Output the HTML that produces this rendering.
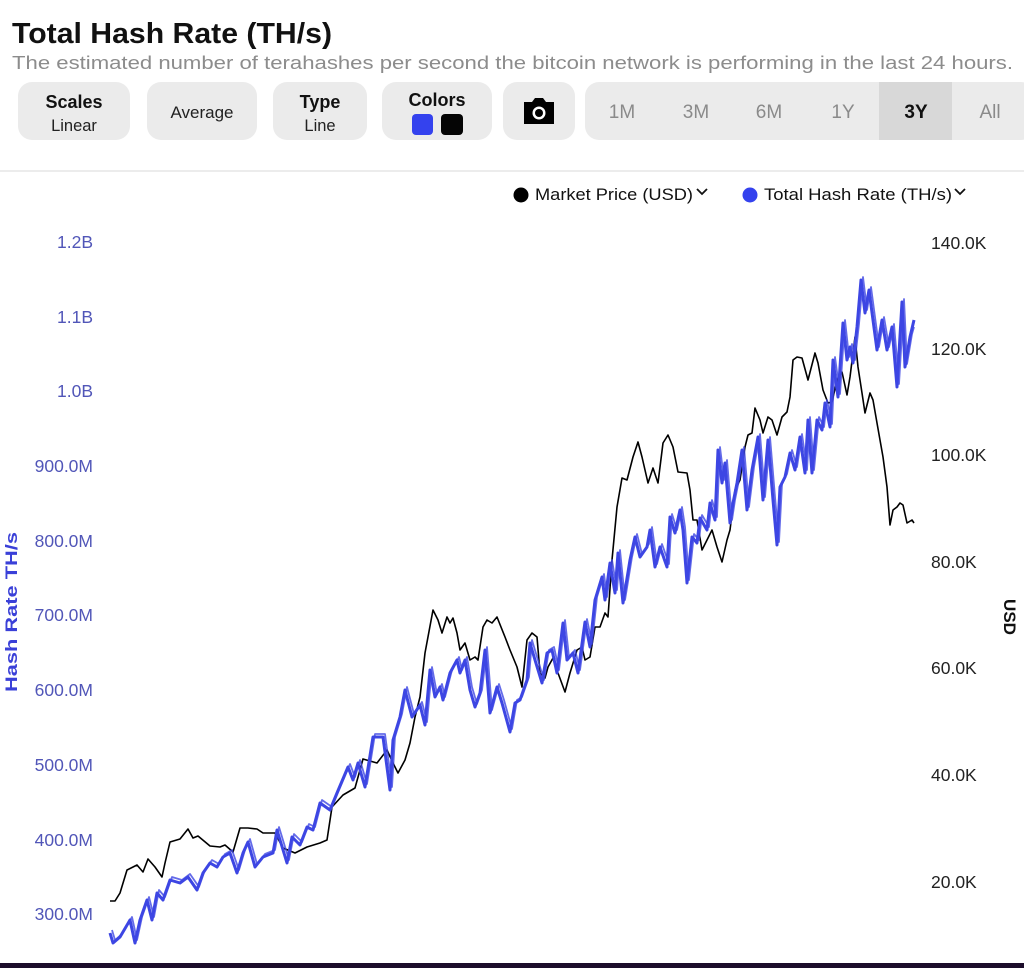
<!DOCTYPE html>
<html><head><meta charset="utf-8"><style>
html,body{margin:0;padding:0;background:#fff;}
svg{display:block;font-family:"Liberation Sans",sans-serif;}
</style></head><body>
<svg width="1024" height="968" viewBox="0 0 1024 968" xmlns="http://www.w3.org/2000/svg">
<rect width="1024" height="968" fill="#fff"/>
<text x="12" y="43" font-size="29" font-weight="bold" fill="#111" textLength="320" lengthAdjust="spacingAndGlyphs">Total Hash Rate (TH/s)</text>
<text x="12" y="69" font-size="18.5" fill="#8c8c8c" textLength="1001" lengthAdjust="spacingAndGlyphs">The estimated number of terahashes per second the bitcoin network is performing in the last 24 hours.</text>
<!-- buttons -->
<rect x="18" y="82" width="112" height="58" rx="14" fill="#ebebeb"/>
<text x="74" y="108" font-size="18" font-weight="bold" text-anchor="middle" fill="#111">Scales</text>
<text x="74" y="131" font-size="16.5" text-anchor="middle" fill="#222">Linear</text>
<rect x="147" y="82" width="110" height="58" rx="14" fill="#ebebeb"/>
<text x="202" y="118" font-size="17" text-anchor="middle" fill="#222">Average</text>
<rect x="273" y="82" width="94" height="58" rx="14" fill="#ebebeb"/>
<text x="320" y="108" font-size="18" font-weight="bold" text-anchor="middle" fill="#111">Type</text>
<text x="320" y="131" font-size="16.5" text-anchor="middle" fill="#222">Line</text>
<rect x="382" y="82" width="110" height="58" rx="14" fill="#ebebeb"/>
<text x="437" y="106" font-size="18" font-weight="bold" text-anchor="middle" fill="#111">Colors</text>
<rect x="412" y="114" width="21" height="21" rx="4" fill="#3442ee"/>
<rect x="441" y="114" width="22" height="21" rx="4" fill="#050505"/>
<rect x="503" y="82" width="72" height="58" rx="14" fill="#ebebeb"/>
<path d="M524 102 h8 l3 -4 h8 l3 4 h8 v22 h-30 z" fill="#000"/>
<circle cx="539" cy="113" r="6.5" fill="#fff"/>
<circle cx="539" cy="113" r="4" fill="#000"/>
<rect x="585" y="82" width="450" height="58" rx="14" fill="#ebebeb"/>
<rect x="879" y="82" width="73" height="58" fill="#d8d8d8"/>
<g font-size="19" fill="#8a8a8a" text-anchor="middle">
<text x="622" y="118">1M</text>
<text x="696" y="118">3M</text>
<text x="769" y="118">6M</text>
<text x="843" y="118">1Y</text>
<text x="916" y="118" font-weight="bold" fill="#111">3Y</text>
<text x="990" y="118">All</text>
</g>
<line x1="0" y1="171" x2="1024" y2="171" stroke="#e6e6e6" stroke-width="1.5"/>
<!-- legend -->
<circle cx="521" cy="195" r="7.5" fill="#000"/>
<text x="535" y="200" font-size="17" fill="#111" textLength="158" lengthAdjust="spacingAndGlyphs">Market Price (USD)</text>
<polyline points="697,189 702,194 707,189" fill="none" stroke="#111" stroke-width="1.8"/>
<circle cx="750" cy="195" r="7.5" fill="#3442ee"/>
<text x="764" y="200" font-size="17" fill="#111" textLength="188" lengthAdjust="spacingAndGlyphs">Total Hash Rate (TH/s)</text>
<polyline points="955,189 960,194 965,189" fill="none" stroke="#111" stroke-width="1.8"/>
<!-- left ticks -->
<g font-size="17.5" fill="#5156b8" text-anchor="end">
<text x="93" y="248">1.2B</text>
<text x="93" y="323">1.1B</text>
<text x="93" y="397">1.0B</text>
<text x="93" y="472">900.0M</text>
<text x="93" y="547">800.0M</text>
<text x="93" y="621">700.0M</text>
<text x="93" y="696">600.0M</text>
<text x="93" y="771">500.0M</text>
<text x="93" y="846">400.0M</text>
<text x="93" y="920">300.0M</text>
</g>
<g font-size="17.5" fill="#222">
<text x="931" y="249">140.0K</text>
<text x="931" y="355">120.0K</text>
<text x="931" y="461">100.0K</text>
<text x="931" y="568">80.0K</text>
<text x="931" y="674">60.0K</text>
<text x="931" y="781">40.0K</text>
<text x="931" y="888">20.0K</text>
</g>
<text transform="translate(17,612) rotate(-90)" font-size="17" font-weight="bold" fill="#3a40d8" text-anchor="middle" textLength="160" lengthAdjust="spacingAndGlyphs">Hash Rate TH/s</text>
<text transform="translate(1004,617) rotate(90)" font-size="17" font-weight="bold" fill="#111" text-anchor="middle">USD</text>
<!-- series -->
<polyline fill="none" stroke="#000" stroke-width="1.6" stroke-linejoin="round" points="110,901 115,901 120,893 127,870 137,865 143,872 148,859 155,867 162,877 165,863 170,842 180,839 188,829 193,838 198,836 210,846 220,847 225,845 233,852 240,828 248,828 257,829 263,833 275,833 283,848 295,853 307,847 320,843 327,840 332,807 343,795 355,788 363,759 377,763 387,750 393,763 398,773 405,760 410,743 415,717 420,697 425,653 433,610 438,620 442,633 447,617 450,623 453,618 457,633 460,650 465,643 470,660 475,657 478,660 483,627 487,620 492,623 497,617 505,637 510,650 517,667 522,687 527,640 532,633 537,637 540,673 545,678 548,667 553,658 558,673 565,692 570,673 577,650 582,647 585,660 590,657 595,627 600,627 605,613 608,617 612,560 617,507 622,478 627,480 633,457 638,442 642,457 648,483 653,468 658,483 663,443 668,435 673,447 678,472 687,473 690,490 693,520 697,520 702,550 707,540 712,530 717,547 722,562 727,540 730,530 735,490 740,480 745,447 748,435 752,433 755,408 760,420 763,433 768,417 772,420 777,435 782,417 787,412 790,397 793,360 797,357 802,358 808,380 815,353 818,363 823,390 828,403 832,402 837,380 842,372 847,395 850,377 855,337 858,367 862,393 865,413 870,393 873,400 877,423 880,440 883,457 887,487 890,525 893,510 897,507 900,503 903,505 907,523 912,520 914,523"/>
<g fill="none" stroke="#3d46e3" stroke-linejoin="round">
<polyline stroke-width="3" points="110,933 113,943 120,937 130,920 135,943 140,920 147,900 152,920 157,893 163,900 170,880 180,883 188,877 197,890 203,873 210,863 217,867 223,857 230,853 237,873 243,853 248,842 255,867 263,857 273,853 277,830 287,863 292,837 300,845 307,827 313,830 320,803 330,810 337,793 348,767 353,780 358,763 365,787 373,737 383,737 390,790 393,740 400,717 405,690 412,717 420,705 425,725 430,670 435,697 440,687 443,700 450,673 457,660 460,673 465,660 470,690 475,707 480,693 485,650 490,713 497,687 502,703 510,732 515,703 520,700 527,680 530,643 535,660 542,683 547,653 552,650 557,673 563,623 567,660 573,653 578,673 585,622 590,647 595,600 602,577 605,600 610,563 615,593 618,553 623,603 630,560 635,537 640,557 647,547 650,530 655,567 660,547 667,567 670,517 675,533 680,510 683,530 687,583 692,537 697,543 700,518 707,530 710,503 715,520 718,450 722,483 725,463 730,523 733,503 737,483 742,450 747,510 752,470 758,437 763,500 768,440 773,500 777,545 780,487 785,477 790,453 795,470 800,437 805,473 808,420 812,473 817,420 822,430 825,403 830,427 833,360 838,397 843,323 847,360 850,347 853,363 857,327 861,280 865,313 869,290 873,320 877,350 882,320 887,350 892,327 897,387 902,302 905,367 910,337 914,320"/>
<polyline stroke-width="1.8" opacity="0.8" transform="translate(2,-3)" points="110,933 113,943 120,937 130,920 135,943 140,920 147,900 152,920 157,893 163,900 170,880 180,883 188,877 197,890 203,873 210,863 217,867 223,857 230,853 237,873 243,853 248,842 255,867 263,857 273,853 277,830 287,863 292,837 300,845 307,827 313,830 320,803 330,810 337,793 348,767 353,780 358,763 365,787 373,737 383,737 390,790 393,740 400,717 405,690 412,717 420,705 425,725 430,670 435,697 440,687 443,700 450,673 457,660 460,673 465,660 470,690 475,707 480,693 485,650 490,713 497,687 502,703 510,732 515,703 520,700 527,680 530,643 535,660 542,683 547,653 552,650 557,673 563,623 567,660 573,653 578,673 585,622 590,647 595,600 602,577 605,600 610,563 615,593 618,553 623,603 630,560 635,537 640,557 647,547 650,530 655,567 660,547 667,567 670,517 675,533 680,510 683,530 687,583 692,537 697,543 700,518 707,530 710,503 715,520 718,450 722,483 725,463 730,523 733,503 737,483 742,450 747,510 752,470 758,437 763,500 768,440 773,500 777,545 780,487 785,477 790,453 795,470 800,437 805,473 808,420 812,473 817,420 822,430 825,403 830,427 833,360 838,397 843,323 847,360 850,347 853,363 857,327 861,280 865,313 869,290 873,320 877,350 882,320 887,350 892,327 897,387 902,302 905,367 910,337 912,330"/>
</g>
<rect x="0" y="963" width="1024" height="5" fill="#1c0d2b"/>
</svg>
</body></html>
